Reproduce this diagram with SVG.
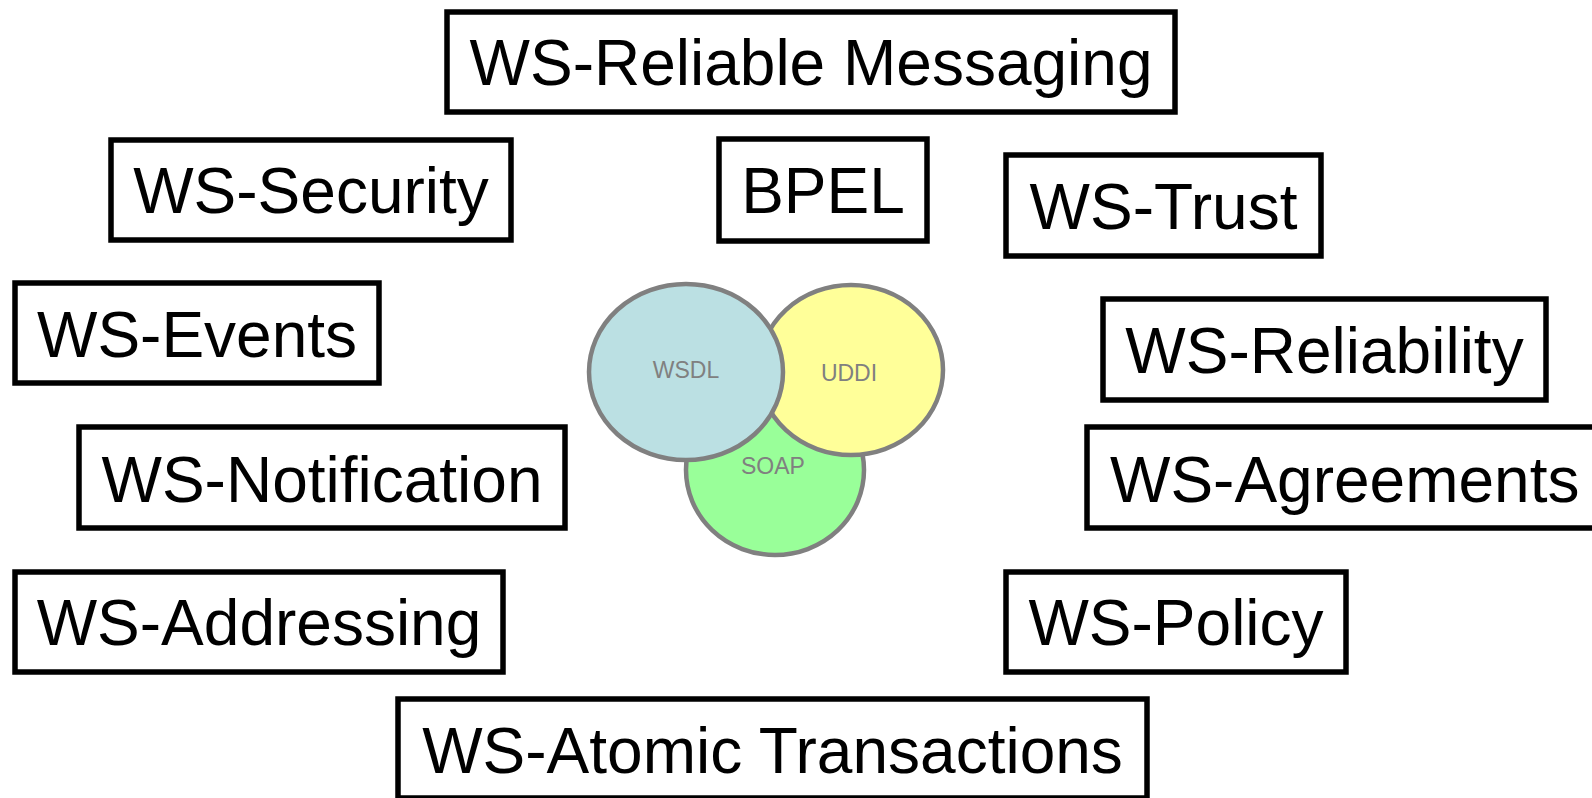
<svg xmlns="http://www.w3.org/2000/svg" width="1592" height="798" viewBox="0 0 1592 798">
<style>
.box rect{fill:#ffffff;stroke:#000000;stroke-width:5.5}
.box text{font-family:"Liberation Sans",Arial,sans-serif;font-size:64px;fill:#000000;text-anchor:middle}
.circ ellipse{stroke:#808080;stroke-width:4.5}
.circ text{font-family:"Liberation Sans",Arial,sans-serif;font-size:23px;fill:#808080;text-anchor:middle}
</style>
<rect x="0" y="0" width="1592" height="798" fill="#ffffff"/>
<g id="soap" class="circ"><ellipse cx="775" cy="470" rx="89" ry="85" fill="#99ff99"/></g>
<g id="uddi" class="circ"><ellipse cx="851" cy="370" rx="92" ry="85" fill="#ffff99"/><text x="849" y="381">UDDI</text></g>
<g id="wsdl" class="circ"><ellipse cx="686" cy="372" rx="97" ry="88" fill="#bbe0e3"/><text x="686" y="378">WSDL</text></g>
<g id="soap-label" class="circ"><text x="773" y="474">SOAP</text></g>
<g id="connectors"></g>
<g id="ws-reliable-messaging" class="box"><rect x="447" y="12" width="728" height="100"/><text x="811" y="85">WS-Reliable Messaging</text></g>
<g id="ws-security" class="box"><rect x="111" y="140" width="400" height="100"/><text x="311" y="213">WS-Security</text></g>
<g id="bpel" class="box"><rect x="719" y="139" width="208" height="102"/><text x="823" y="213">BPEL</text></g>
<g id="ws-trust" class="box"><rect x="1006" y="155" width="315" height="101"/><text x="1163.5" y="229">WS-Trust</text></g>
<g id="ws-events" class="box"><rect x="15" y="283" width="364" height="100"/><text x="197" y="357">WS-Events</text></g>
<g id="ws-reliability" class="box"><rect x="1103" y="299" width="443" height="101"/><text x="1324.5" y="373">WS-Reliability</text></g>
<g id="ws-notification" class="box"><rect x="79" y="427" width="486" height="101"/><text x="322" y="502">WS-Notification</text></g>
<g id="ws-agreements" class="box"><rect x="1087" y="427" width="516" height="101"/><text x="1110" y="502" style="text-anchor:start">WS-Agreements</text></g>
<g id="ws-addressing" class="box"><rect x="15" y="572" width="488" height="100"/><text x="259" y="645">WS-Addressing</text></g>
<g id="ws-policy" class="box"><rect x="1006" y="572" width="340" height="100"/><text x="1176" y="645">WS-Policy</text></g>
<g id="ws-atomic-transactions" class="box"><rect x="398" y="699" width="749" height="99"/><text x="772.5" y="773">WS-Atomic Transactions</text></g>
</svg>
